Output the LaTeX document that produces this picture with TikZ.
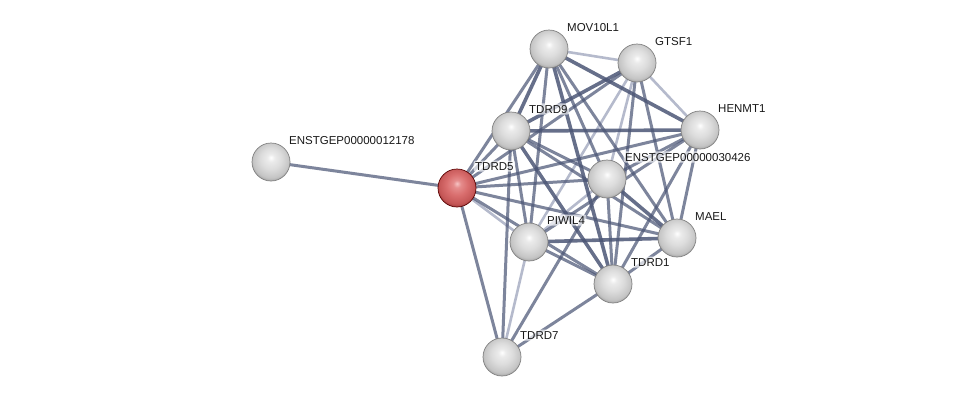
\documentclass[tikz,border=0pt]{standalone}
\usepackage{fontspec}
\setmainfont{Liberation Sans}
\definecolor{edgedark}{HTML}{4C5676}
\definecolor{edgelight}{HTML}{A9AFC4}
\definecolor{wb0}{HTML}{FFFFFF}
\definecolor{wb1}{HTML}{EBEBEB}
\definecolor{wb2}{HTML}{DCDCDC}
\definecolor{wb3}{HTML}{C4C4C4}
\definecolor{wb4}{HTML}{9A9A9A}
\definecolor{rb0}{HTML}{F6C4C4}
\definecolor{rb1}{HTML}{E58C8C}
\definecolor{rb2}{HTML}{D96E6E}
\definecolor{rb3}{HTML}{C45656}
\definecolor{rb4}{HTML}{963434}
\pgfdeclareradialshading{wball}{\pgfpoint{0bp}{6bp}}{color(0bp)=(wb0); color(5bp)=(wb1); color(14bp)=(wb2); color(24bp)=(wb3); color(29bp)=(wb4); color(50bp)=(wb4)}
\pgfdeclareradialshading{rball}{\pgfpoint{0bp}{6bp}}{color(0bp)=(rb0); color(5bp)=(rb1); color(14bp)=(rb2); color(24bp)=(rb3); color(29bp)=(rb4); color(50bp)=(rb4)}
\tikzset{
  prot/.style={circle, minimum size=38pt, inner sep=0pt, draw=black!50, line width=0.7pt, shading=wball},
  protred/.style={prot, shading=rball, draw=red!35!black},
  lab/.style={anchor=base west, font=\fontsize{11.5}{13}\selectfont, inner sep=1.5pt, text=black!90, fill=white, fill opacity=0.65, text opacity=1, rounded corners=2pt},
  es/.style={draw=edgedark, line width=3.6pt, opacity=0.85},
  em/.style={draw=edgedark, line width=3.0pt, opacity=0.72},
  ew/.style={draw=edgelight, line width=2.6pt, opacity=0.85},
}
\begin{document}
\begin{tikzpicture}[x=1pt,y=-1pt]
\useasboundingbox[fill=white] (0,0) rectangle (975,402);
% node centres
\coordinate (cMOV) at (549,49);
\coordinate (cGTSF) at (637,63);
\coordinate (cHEN) at (700,130);
\coordinate (cT9) at (511,131);
\coordinate (cE12) at (271,162);
\coordinate (cT5) at (457,188);
\coordinate (cE30) at (607,179);
\coordinate (cMAEL) at (677,238);
\coordinate (cPIW) at (529,242);
\coordinate (cT1) at (613,284);
\coordinate (cT7) at (502,357);
% weak edges
\draw[ew] (cMOV) -- (cGTSF);
\draw[ew] (cGTSF) -- (cHEN);
\draw[ew] (cGTSF) -- (cE30);
\draw[ew] (cGTSF) -- (cPIW);
\draw[ew] (cE30) -- (cPIW);
\draw[ew] (cPIW) -- (cT7);
\draw[ew] (cT5) -- (cPIW);
% medium edges
\draw[em] (cE12) -- (cT5);
\draw[em] (cT5) -- (cT9);
\draw[em] (cT5) -- (cMOV);
\draw[em] (cT5) -- (cGTSF);
\draw[em] (cT5) -- (cHEN);
\draw[em] (cT5) -- (cE30);
\draw[em] (cT5) -- (cMAEL);
\draw[em] (cT5) -- (cT1);
\draw[em] (cT5) -- (cT7);
\draw[em] (cMOV) -- (cE30);
\draw[em] (cMOV) -- (cPIW);
\draw[em] (cMOV) -- (cMAEL);
\draw[em] (cGTSF) -- (cT1);
\draw[em] (cGTSF) -- (cMAEL);
\draw[em] (cHEN) -- (cE30);
\draw[em] (cHEN) -- (cPIW);
\draw[em] (cHEN) -- (cMAEL);
\draw[em] (cHEN) -- (cT1);
\draw[em] (cT9) -- (cE30);
\draw[em] (cT9) -- (cPIW);
\draw[em] (cT9) -- (cMAEL);
\draw[em] (cT9) -- (cT7);
\draw[em] (cE30) -- (cT1);
\draw[em] (cE30) -- (cT7);
\draw[em] (cPIW) -- (cT1);
\draw[em] (cMAEL) -- (cT1);
\draw[em] (cT1) -- (cT7);
% strong edges
\draw[es] (cMOV) -- (cT9);
\draw[es] (cMOV) -- (cHEN);
\draw[es] (cMOV) -- (cT1);
\draw[es] (cGTSF) -- (cT9);
\draw[es] (cHEN) -- (cT9);
\draw[es] (cT9) -- (cT1);
\draw[es] (cE30) -- (cMAEL);
\draw[es] (cPIW) -- (cMAEL);
% nodes
\node[prot] (MOV) at (cMOV) {};
\node[prot] (GTSF) at (cGTSF) {};
\node[prot] (HEN) at (cHEN) {};
\node[prot] (T9) at (cT9) {};
\node[prot] (E12) at (cE12) {};
\node[protred] (T5) at (cT5) {};
\node[prot] (E30) at (cE30) {};
\node[prot] (MAEL) at (cMAEL) {};
\node[prot] (PIW) at (cPIW) {};
\node[prot] (T1) at (cT1) {};
\node[prot] (T7) at (cT7) {};
% labels
\node[lab] (lMOV) at (565.5,31) {MOV10L1};
\node[lab] (lGTSF) at (653.5,45) {GTSF1};
\node[lab] (lHEN) at (716.5,112) {HENMT1};
\node[lab] (lT9) at (527.5,113) {TDRD9};
\node[lab] (lE12) at (287.5,144) {ENSTGEP00000012178};
\node[lab] (lT5) at (473.5,170) {TDRD5};
\node[lab] (lE30) at (623.5,161) {ENSTGEP00000030426};
\node[lab] (lMAEL) at (693.5,220) {MAEL};
\node[lab] (lPIW) at (545.5,224) {PIWIL4};
\node[lab] (lT1) at (629.5,266) {TDRD1};
\node[lab] (lT7) at (518.5,339) {TDRD7};
\end{tikzpicture}
\end{document}
